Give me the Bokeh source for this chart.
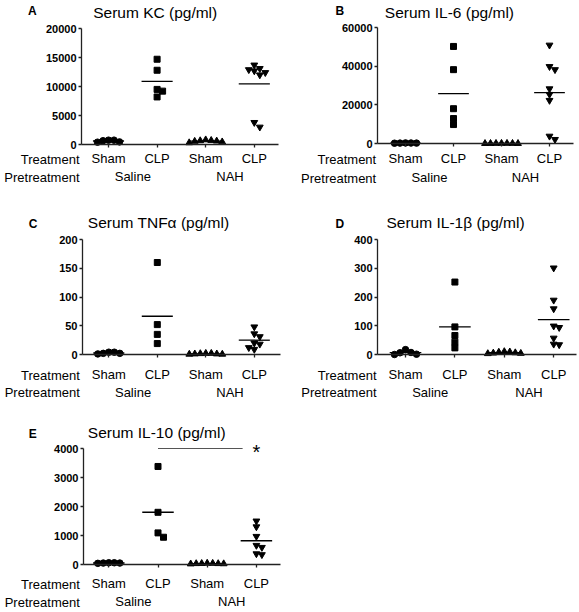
import numpy as np
from bokeh.plotting import figure
from bokeh.layouts import column, row
from bokeh.models import Range1d, FixedTicker, LinearAxis, ColumnDataSource
from bokeh.embed import file_html
from bokeh.resources import INLINE
from bokeh.core.properties import value

# ---------------- data ----------------
pretreatments = ["Saline", "NAH"]
treatments = ["Sham", "CLP"]

kc_saline_sham = [750, 650, 400, 450, 750]
kc_saline_clp = [14700, 12800, 9500, 9200, 8200]
kc_nah_sham = [600, 450, 300, 650, 700, 800, 550]
kc_nah_clp = [12900, 12400, 12000, 13700, 12700, 13100, 3000, 3800]

il6_saline_sham = [300, 200, 150, 200, 250]
il6_saline_clp = [50200, 38200, 18000, 12900, 9800]
il6_nah_sham = [100, 50, 0, 80, 30, 60, 20]
il6_nah_clp = [50900, 39800, 38200, 28300, 25400, 22300, 2100, 3800]

tnf_saline_sham = [4, 2, 1, 2, 4]
tnf_saline_clp = [160, 52, 35, 19]
tnf_nah_sham = [1, 2, 0.5, 1.5, 2, 1, 0.5]
tnf_nah_clp = [48, 36, 31, 18, 9, 12, 20]

il1_saline_sham = [17, 6, 0, 1, 7]
il1_saline_clp = [252, 96, 66, 43, 23]
il1_nah_sham = [5, 8, 3, 10, 6, 4, 9]
il1_nah_clp = [301, 189, 159, 99, 94, 57, 34, 36]

il10_saline_sham = [60, 50, 40, 50, 60]
il10_saline_clp = [3380, 1800, 1090, 940]
il10_nah_sham = [40, 30, 20, 35, 45, 30, 25]
il10_nah_clp = [1500, 1300, 970, 590, 660, 340, 370]

kc_ticks = [0, 5000, 10000, 15000, 20000]
il6_ticks = [0, 20000, 40000, 60000]
tnf_ticks = [0, 50, 100, 150, 200]
il1_ticks = [0, 100, 200, 300, 400]
il10_ticks = [0, 1000, 2000, 3000, 4000]

FONT = "Liberation Sans"
markers = ["circle", "square", "triangle", "inverted_triangle"]
msizes = [6.5, 6, 6.8, 6.8]


def swarm(vals, ypx, xpx, dpx=5.5, coll=5.5):
    order = sorted(range(len(vals)), key=lambda i: -vals[i])
    placed = []
    res = [0.0] * len(vals)
    cands = [0.0]
    for j in range(1, 12):
        cands += [j * dpx, -j * dpx]
    for i in order:
        y = vals[i] * ypx
        for c in cands:
            if all(abs(c - a) >= coll or abs(y - b) >= coll for a, b in placed):
                break
        placed.append((c, y))
        res[i] = c / xpx
    return res


def style_axis(ax):
    ax.axis_line_color = "#222"
    ax.axis_line_width = 1.3
    ax.major_tick_line_color = "#222"
    ax.major_tick_line_width = 1.3
    ax.major_tick_in = 0
    ax.minor_tick_in = 0
    ax.minor_tick_out = 0
    ax.major_label_text_font = FONT
    ax.major_label_text_color = "black"


def panel(series, ticks, title, letter, fig_box, cats, frame, letter_pos, title_pos,
          lab_right, lab_base, sig=False):
    fx0, fy0, fw, fh = fig_box
    cat0, sp = cats
    ax_x, right_x, top_y, zero_y = frame
    ymax = ticks[-1]
    ypx = (zero_y - top_y) / ymax

    def X(px):
        return (px - cat0) / sp

    def Y(py):
        return (zero_y - py) / ypx

    p = figure(width=fw, height=fh,
               x_range=Range1d(X(fx0), X(fx0 + fw)),
               y_range=Range1d(Y(fy0 + fh), Y(fy0)),
               x_axis_type=None, y_axis_type=None, min_border=0,
               output_backend="svg", toolbar_location=None)
    p.outline_line_color = None
    p.xgrid.visible = False
    p.ygrid.visible = False
    p.background_fill_color = "white"
    p.border_fill_color = "white"

    # y axis
    ya = LinearAxis(fixed_location=X(ax_x), bounds=(0, ymax),
                    ticker=FixedTicker(ticks=ticks))
    style_axis(ya)
    ya.major_tick_out = 3
    ya.major_label_text_font_size = "11px"
    ya.major_label_text_font_style = "bold"
    ya.major_label_standoff = 2
    p.add_layout(ya, "left")

    # x axis: treatment labels
    pos = list(range(len(pretreatments) * len(treatments)))
    xa = LinearAxis(fixed_location=0, bounds=(X(ax_x), X(right_x)),
                    ticker=FixedTicker(ticks=pos),
                    major_label_overrides={i: treatments[i % 2] for i in pos})
    style_axis(xa)
    xa.major_tick_out = 3
    xa.major_label_text_font_size = "13px"
    xa.major_label_standoff = max(0, int(round(lab_base[0] - zero_y - 3 - 13.5)))
    p.add_layout(xa, "below")

    # x axis: pretreatment (group) labels
    gpos = [0.5, 2.5]
    ga = LinearAxis(fixed_location=0, ticker=FixedTicker(ticks=gpos),
                    major_label_overrides={g: pretreatments[k] for k, g in enumerate(gpos)})
    style_axis(ga)
    ga.axis_line_color = None
    ga.major_tick_line_color = None
    ga.major_tick_out = 0
    ga.major_label_text_font_size = "13px"
    ga.major_label_standoff = int(round(lab_base[1] - zero_y - 13.5))
    p.add_layout(ga, "below")

    for gi, (vals, mk, ms) in enumerate(zip(series, markers, msizes)):
        offs = swarm(vals, ypx, sp)
        src = ColumnDataSource(dict(x=[gi + o for o in offs], y=vals))
        p.scatter(x="x", y="y", source=src, marker=mk, size=ms,
                  fill_color="black", line_color="black")
        m = float(np.mean(vals))
        p.segment(x0=[gi - 0.32], x1=[gi + 0.32], y0=[m], y1=[m],
                  line_color="black", line_width=1.3)

    def txt(px, py, text, size, style="normal", align="left"):
        p.text(x=[X(px)], y=[Y(py)], text=[text], text_font=value(FONT),
               text_font_size=value(size), text_font_style=style,
               text_color="black", text_align=align, text_baseline="middle")

    # positions are the vertical centres of the capital letters
    txt(letter_pos[0], letter_pos[1], letter, "12px", "bold")
    txt(title_pos[0], title_pos[1], title, "15.5px")
    txt(lab_right, lab_base[0] - 4.6, "Treatment", "13px", align="right")
    txt(lab_right, lab_base[1] - 4.6, "Pretreatment", "13px", align="right")

    if sig:
        p.segment(x0=[1], x1=[3 - 0.28], y0=[ymax], y1=[ymax],
                  line_color="#555", line_width=1)
        p.text(x=[3], y=[ymax], text=["*"], text_font=value(FONT),
               text_font_size=value("20px"), text_align="center",
               text_baseline="alphabetic", y_offset=3, text_color="black")
    return p


pA = panel([kc_saline_sham, kc_saline_clp, kc_nah_sham, kc_nah_clp], kc_ticks,
           "Serum KC (pg/ml)", "A", (0, 0, 291, 190), (108, 48.6), (81, 278, 28, 144),
           (27.5, 10), (92.7, 12), 79, (163.5, 181.7))
pB = panel([il6_saline_sham, il6_saline_clp, il6_nah_sham, il6_nah_clp], il6_ticks,
           "Serum IL-6 (pg/ml)", "B", (291, 0, 287, 190), (405, 48), (377, 573, 27, 143),
           (335, 10.3), (384.3, 12), 375.7, (164, 183))
pC = panel([tnf_saline_sham, tnf_saline_clp, tnf_nah_sham, tnf_nah_clp], tnf_ticks,
           "Serum TNFα (pg/ml)", "C", (0, 190, 291, 210), (108.3, 48.5), (82, 280, 239, 354),
           (28.3, 223.7), (87.3, 222), 79.3, (379.5, 397))
pD = panel([il1_saline_sham, il1_saline_clp, il1_nah_sham, il1_nah_clp], il1_ticks,
           "Serum IL-1β (pg/ml)", "D", (291, 190, 287, 210), (405, 49.4), (377, 576, 239, 354),
           (335, 223.5), (386, 222), 376, (379.5, 397))
pE = panel([il10_saline_sham, il10_saline_clp, il10_nah_sham, il10_nah_clp], il10_ticks,
           "Serum IL-10 (pg/ml)", "E", (0, 400, 291, 211), (108.3, 49.2), (83, 280, 448, 564),
           (28.3, 433.7), (87.3, 432), 79.3, (589, 606.5), sig=True)

layout = column(row(pA, pB), row(pC, pD), row(pE))
open("out.html", "w").write(file_html(layout, INLINE))
